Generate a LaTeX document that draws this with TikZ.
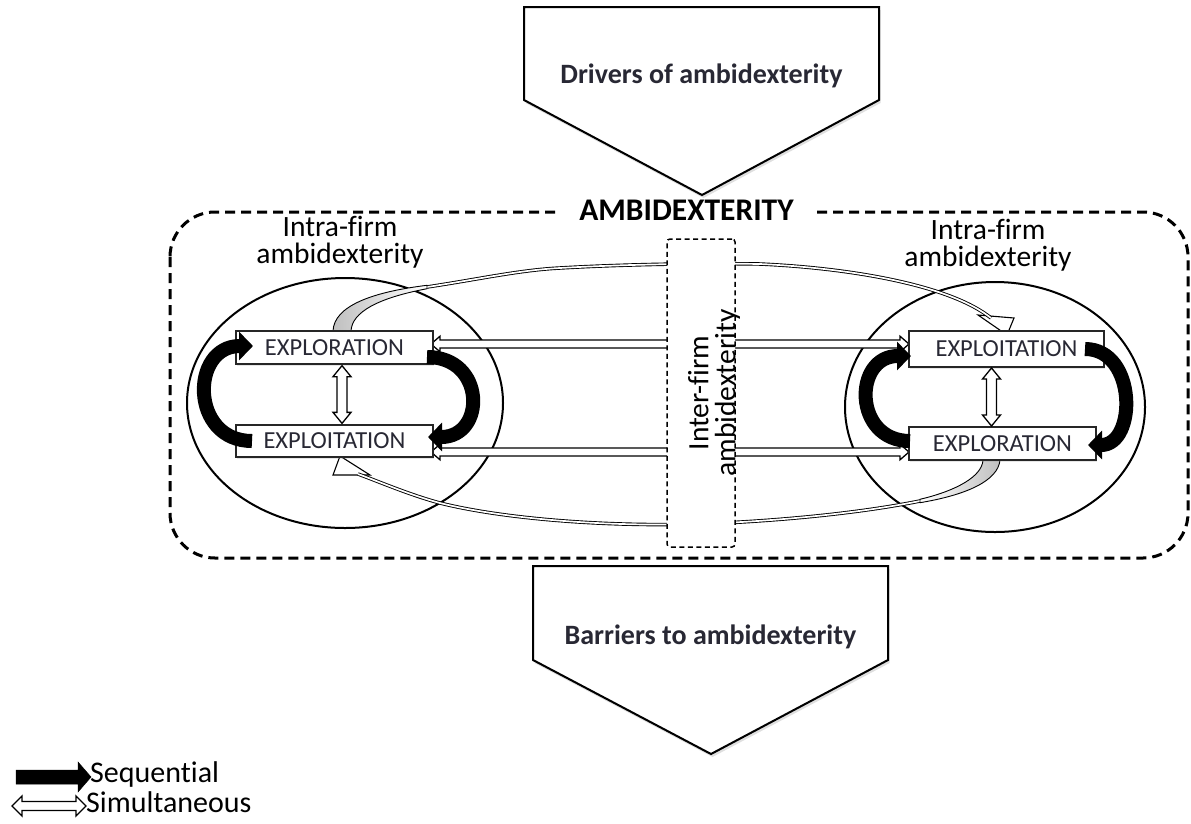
\documentclass[tikz,border=0pt]{standalone}
\usepackage{fontspec}
\setmainfont{Carlito}[Ligatures=CommonOff]
\usetikzlibrary{calc,arrows.meta,shadows}
\definecolor{txt}{RGB}{40,40,52}
\newcommand\myfs[2]{\fontsize{#1}{#2}\selectfont}
% block arrow polygon: #1 style, #2 start, #3 tip, #4 shaft half width, #5 head half width, #6 head length
\newcommand\blockarrow[6]{%
  \coordinate (bkP) at ($(#3)!#6!(#2)$);
  \draw[#1] ($(#2)!#4!90:(#3)$) -- ($(bkP)!#4!90:(#3)$) -- ($(bkP)!#5!90:(#3)$) -- (#3)
     -- ($(bkP)!#5!-90:(#3)$) -- ($(bkP)!#4!-90:(#3)$) -- ($(#2)!#4!-90:(#3)$) -- cycle;
}
\newcommand\dblarrow[6]{%
  \coordinate (bkA) at ($(#2)!#6!(#3)$);
  \coordinate (bkB) at ($(#3)!#6!(#2)$);
  \draw[#1] (#2) -- ($(bkA)!#5!90:(#3)$) -- ($(bkA)!#4!90:(#3)$) -- ($(bkB)!#4!90:(#3)$)
     -- ($(bkB)!#5!90:(#3)$) -- (#3) -- ($(bkB)!#5!-90:(#3)$) -- ($(bkB)!#4!-90:(#3)$)
     -- ($(bkA)!#4!-90:(#3)$) -- ($(bkA)!#5!-90:(#3)$) -- cycle;
}
\begin{document}
\begin{tikzpicture}[x=1pt,y=-1pt,
 outerbox/.style={draw=black, line width=3pt, dash pattern=on 10pt off 6pt, rounded corners=45pt},
 penta/.style={draw=black, line width=2pt, fill=white, line join=miter,
   drop shadow={opacity=0.25, shadow xshift=1.5pt, shadow yshift=-3pt}},
 ptext/.style={font=\bfseries\myfs{28}{34}, text=txt, inner sep=0pt},
 ell/.style={draw=black, line width=2pt},
 xbox/.style={draw=black!85, line width=1.3pt, fill=white, inner sep=0pt, font=\myfs{24.5}{29}, text=txt,
   drop shadow={opacity=0.2, shadow xshift=1pt, shadow yshift=-2pt}},
 lbl/.style={font=\myfs{29.5}{27}, align=center, inner sep=0pt},
 interbox/.style={draw=black, line width=1.5pt, dash pattern=on 5pt off 3.5pt, rounded corners=3pt,
   fill=white, minimum width=68pt, minimum height=308pt, inner sep=0pt},
 sim/.style={draw=black, fill=white, line width=1.3pt},
 seqarc/.style={line width=14pt, -{Triangle[length=14pt, width=28pt]}},
 longshaft/.style={double=white, draw=black, line width=0.9pt, double distance=1.7pt},
 wedge/.style={draw=black, line width=0.9pt},
 longhead/.style={draw=black, fill=white, line width=1.1pt, line join=miter},
 legtext/.style={anchor=base west, inner sep=0pt, font=\myfs{30}{34}}
]
\useasboundingbox (0,0) rectangle (1191,823);

% outer dashed frame
\draw[outerbox] (170,212) rectangle (1188,558);
\node[font=\bfseries\myfs{31.5}{36}, fill=white, inner xsep=23pt, inner ysep=3pt, anchor=base] (ambi) at (686.5,220) {AMBIDEXTERITY};

% pentagons
\draw[penta] (524,7) -- (879,7) -- (879,100) -- (702,195) -- (524,100) -- cycle;
\node[ptext, anchor=base] (drivers) at (701.5,83) {Drivers of ambidexterity};
\draw[penta] (533,566) -- (888,566) -- (888,660) -- (711,754) -- (533,660) -- cycle;
\node[ptext, anchor=base] (barriers) at (710.5,644) {Barriers to ambidexterity};

% ellipses
\draw[ell] (345,403) ellipse [x radius=158pt, y radius=125pt];
\draw[ell] (995,407) ellipse [x radius=150pt, y radius=125pt];

\node[lbl] (intraL) at (340,242) {Intra-firm\\ambidexterity};
\node[lbl] (intraR) at (988,245) {Intra-firm\\ambidexterity};

% long curved arrows
\draw[longhead] (978,315) -- (1014,318) -- (1007,335) -- cycle;
\draw[longshaft] (342,331) .. controls (343,310) and (375,295) .. (427,287)
  .. controls (480,279) and (520,270) .. (560,268)
  .. controls (620,264.5) and (700,263) .. (760,264)
  .. controls (850,268) and (950,285) .. (991,318);
\shadedraw[wedge, left color=gray!50, right color=white] (333,331) .. controls (334,306) and (372,292) .. (427,285.3)
  -- (427,288.7) .. controls (378,298) and (352,312) .. (351,331) -- cycle;

\draw[longhead] (333,475) -- (340,456) -- (370,475) -- cycle;
\draw[longshaft] (991,460) .. controls (989,478) and (960,493) .. (920,501)
  .. controls (860,513) and (780,521) .. (700,524)
  .. controls (600,527) and (500,518) .. (440,503)
  .. controls (410,495) and (380,482) .. (358,474);
\shadedraw[wedge, left color=white, right color=gray!50] (1000,460) .. controls (998,481) and (966,495) .. (920,502.7)
  -- (920,499.3) .. controls (955,491) and (982,477) .. (983,460) -- cycle;

% horizontal simultaneous arrows
\coordinate (h1s) at (690,344); \coordinate (h1t) at (431,344);
\coordinate (h2s) at (690,452); \coordinate (h2t) at (431,452);
\coordinate (h3s) at (712,344); \coordinate (h3t) at (909,344);
\coordinate (h4s) at (712,452); \coordinate (h4t) at (909,452);
\blockarrow{sim}{h1s}{h1t}{4pt}{7.8pt}{9pt}
\blockarrow{sim}{h2s}{h2t}{4pt}{7.8pt}{9pt}
\blockarrow{sim}{h3s}{h3t}{4pt}{7.8pt}{9pt}
\blockarrow{sim}{h4s}{h4t}{4pt}{7.8pt}{9pt}

% inter-firm box
\node[interbox] (inter) at (701,393) {};
\node[lbl, rotate=90] (intertxt) at (714,393) {Inter-firm\\ambidexterity};

% boxes
\node[xbox, minimum width=197pt, minimum height=33pt] (lxr) at (334.5,347.5) {EXPLORATION};
\node[xbox, minimum width=197pt, minimum height=32pt] (lxt) at (334.5,441) {EXPLOITATION};
\node[xbox, minimum width=195pt, minimum height=36pt] (rxt) at (1006.5,349) {EXPLOITATION};
\node[xbox, minimum width=187pt, minimum height=33pt] (rxr) at (1002.5,443.5) {EXPLORATION};

% vertical simultaneous arrows
\coordinate (v1a) at ($(lxr.south)+(7.5,1)$); \coordinate (v1b) at ($(lxt.north)+(7.5,-1)$);
\coordinate (v2a) at (991.5,368); \coordinate (v2b) at (991.5,426);
\dblarrow{sim}{v1a}{v1b}{5pt}{9pt}{11pt}
\dblarrow{sim}{v2a}{v2b}{5pt}{9pt}{11pt}

% sequential black arrows
\draw[seqarc] (252,441) .. controls (190,441) and (190,346) .. (253,346);
\draw[seqarc] (427,357) .. controls (486,357) and (486,437) .. (428,437);
\draw[seqarc] (910,441) .. controls (853,441) and (853,356) .. (911,356);
\draw[seqarc] (1085,349) .. controls (1137,349) and (1137,445) .. (1088,445);

% legend
\coordinate (lgS1) at (16,777); \coordinate (lgS2) at (91,777);
\coordinate (lgD1) at (12,806); \coordinate (lgD2) at (86,806);
\blockarrow{fill=black, draw=black, line width=0.5pt}{lgS1}{lgS2}{7pt}{15pt}{13pt}
\dblarrow{sim}{lgD1}{lgD2}{4.5pt}{10pt}{10pt}
\node[legtext] (lseq) at (90,782) {Sequential};
\node[legtext] (lsim) at (86,812) {Simultaneous};
\end{tikzpicture}
\end{document}
